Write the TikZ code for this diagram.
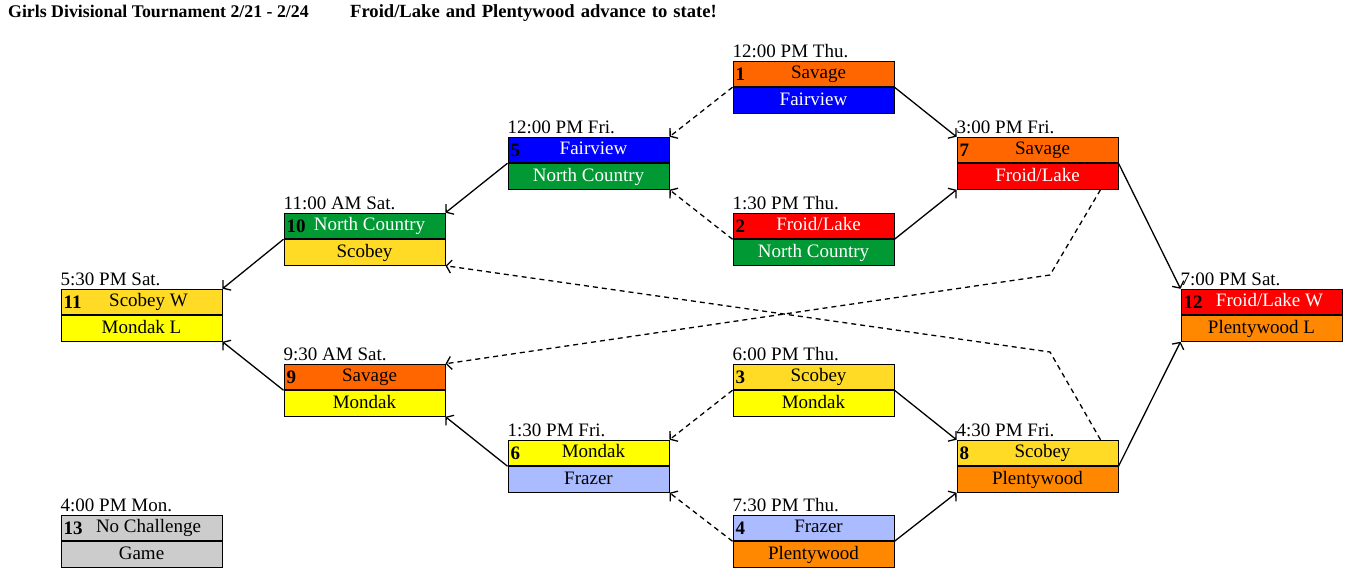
\documentclass[tikz,border=0pt]{standalone}
\usepackage{fontspec}
\setmainfont{Liberation Serif}
\usepackage{xcolor}
\usepackage{tikz}
\usetikzlibrary{arrows.meta,positioning}
\definecolor{corsavage}{RGB}{255,102,0}
\definecolor{corfairview}{RGB}{0,0,255}
\definecolor{cornorth}{RGB}{0,153,51}
\definecolor{corfroid}{RGB}{255,0,0}
\definecolor{corscobey}{RGB}{255,219,38}
\definecolor{cormondak}{RGB}{255,255,0}
\definecolor{corfrazer}{RGB}{170,187,255}
\definecolor{corplenty}{RGB}{255,136,0}
\definecolor{corcinza}{RGB}{204,204,204}
\tikzset{
  linha/.style={rectangle,draw=black,line width=1pt,minimum width=161pt,
    minimum height=25.5pt,inner sep=0pt,text height=13.5pt,text depth=4.5pt,
    font=\fontsize{19}{22}\selectfont},
  savage/.style={linha,fill=corsavage},
  fairview/.style={linha,fill=corfairview,text=white},
  north/.style={linha,fill=cornorth,text=white},
  froid/.style={linha,fill=corfroid,text=white},
  scobey/.style={linha,fill=corscobey},
  mondak/.style={linha,fill=cormondak},
  frazer/.style={linha,fill=corfrazer},
  plenty/.style={linha,fill=corplenty},
  cinza/.style={linha,fill=corcinza},
  hora/.style={anchor=base west,inner sep=0pt,font=\fontsize{19}{22}\selectfont},
  numero/.style={anchor=west,inner sep=3pt,font=\fontsize{19}{22}\selectfont\bfseries},
  titulo/.style={anchor=base west,inner sep=0pt,font=\fontsize{17.8}{21}\selectfont\bfseries},
  seta/.style={-{Straight Barb[length=5pt,width=13pt]},line width=1.3pt},
  tracejada/.style={seta,dash pattern=on 5pt off 4pt}
}

\begin{document}
\begin{tikzpicture}[x=1pt,y=-1pt]
\useasboundingbox (0,0) rectangle (1349,578);

% titulo
\node[titulo] (t1) at (8,18) {Girls Divisional Tournament 2/21 - 2/24};
\node[titulo,font=\fontsize{18.6}{21}\selectfont\bfseries] (t2) at (350,18)
  {\spaceskip=6pt plus 1pt Froid/Lake and Plentywood advance to state!};

% quinta
\node[savage] (g1a) at (813.5,74) {\hspace{10pt}Savage};
\node[fairview,below=0pt of g1a] (g1b) {Fairview};
\node[froid] (g2a) at (813.5,226) {\hspace{10pt}Froid/Lake};
\node[north,below=0pt of g2a] (g2b) {North Country};
\node[scobey] (g3a) at (813.5,377) {\hspace{10pt}Scobey};
\node[mondak,below=0pt of g3a] (g3b) {Mondak};
\node[frazer] (g4a) at (813.5,528) {\hspace{10pt}Frazer};
\node[plenty,below=0pt of g4a] (g4b) {Plentywood};

% sexta
\node[fairview] (g5a) at (588.5,150) {\hspace{10pt}Fairview};
\node[north,below=0pt of g5a] (g5b) {North Country};
\node[mondak] (g6a) at (588.5,453) {\hspace{10pt}Mondak};
\node[frazer,below=0pt of g6a] (g6b) {Frazer};
\node[savage] (g7a) at (1037.5,150) {\hspace{10pt}Savage};
\node[froid,below=0pt of g7a] (g7b) {Froid/Lake};
\node[scobey] (g8a) at (1037.5,453) {\hspace{10pt}Scobey};
\node[plenty,below=0pt of g8a] (g8b) {Plentywood};

% sabado e segunda
\node[savage] (g9a) at (364.5,377) {\hspace{10pt}Savage};
\node[mondak,below=0pt of g9a] (g9b) {Mondak};
\node[north] (g10a) at (364.5,226) {\hspace{10pt}North Country};
\node[scobey,below=0pt of g10a] (g10b) {Scobey};
\node[scobey] (g11a) at (141.5,302) {\hspace{14pt}Scobey W};
\node[mondak,below=0pt of g11a] (g11b) {Mondak L};
\node[froid] (g12a) at (1261.5,302) {\hspace{16pt}Froid/Lake W};
\node[plenty,below=0pt of g12a] (g12b) {Plentywood L};
\node[cinza] (g13a) at (141.5,528) {\hspace{14pt}No Challenge};
\node[cinza,below=0pt of g13a] (g13b) {Game};

% numeros
\foreach \n in {1,...,13}
  \node[numero] (n\n) at (g\n a.west) {\n};

% horarios
\node[hora] (h1) at ([yshift=3pt]g1a.north west) {12:00 PM Thu.};
\node[hora] (h2) at ([yshift=3pt]g2a.north west) {1:30 PM Thu.};
\node[hora] (h3) at ([yshift=3pt]g3a.north west) {6:00 PM Thu.};
\node[hora] (h4) at ([yshift=3pt]g4a.north west) {7:30 PM Thu.};
\node[hora] (h5) at ([yshift=3pt]g5a.north west) {12:00 PM Fri.};
\node[hora] (h6) at ([yshift=3pt]g6a.north west) {1:30 PM Fri.};
\node[hora] (h7) at ([yshift=3pt]g7a.north west) {3:00 PM Fri.};
\node[hora] (h8) at ([yshift=3pt]g8a.north west) {4:30 PM Fri.};
\node[hora] (h9) at ([yshift=3pt]g9a.north west) {9:30 AM Sat.};
\node[hora] (h10) at ([yshift=3pt]g10a.north west) {11:00 AM Sat.};
\node[hora] (h11) at ([yshift=3pt]g11a.north west) {5:30 PM Sat.};
\node[hora] (h12) at ([yshift=3pt]g12a.north west) {7:00 PM Sat.};
\node[hora] (h13) at ([yshift=3pt]g13a.north west) {4:00 PM Mon.};

% vencedores
\draw[seta] (g1a.south east) -- (g7a.north west);
\draw[seta] (g2a.south east) -- (g7b.south west);
\draw[seta] (g3a.south east) -- (g8a.north west);
\draw[seta] (g4a.south east) -- (g8b.south west);
\draw[seta] (g5a.south west) -- (g10a.north east);
\draw[seta] (g6a.south west) -- (g9b.south east);
\draw[seta] (g7a.south east) -- (g12a.north west);
\draw[seta] (g8a.south east) -- (g12b.south west);
\draw[seta] (g10a.south west) -- (g11a.north east);
\draw[seta] (g9a.south west) -- (g11b.south east);

% perdedores
\draw[tracejada] (g1a.south west) -- (g5a.north east);
\draw[tracejada] (g2a.south west) -- (g5b.south east);
\draw[tracejada] (g3a.south west) -- (g6a.north east);
\draw[tracejada] (g4a.south west) -- (g6b.south east);
\coordinate (q1) at (1050,275);
\coordinate (q2) at (1050,352);
\draw[tracejada] ([xshift=-18pt]g7b.south east) -- (q1) -- (g9a.north east);
\draw[tracejada] ([xshift=-18pt]g8a.north east) -- (q2) -- (g10b.south east);
\end{tikzpicture}
\end{document}
